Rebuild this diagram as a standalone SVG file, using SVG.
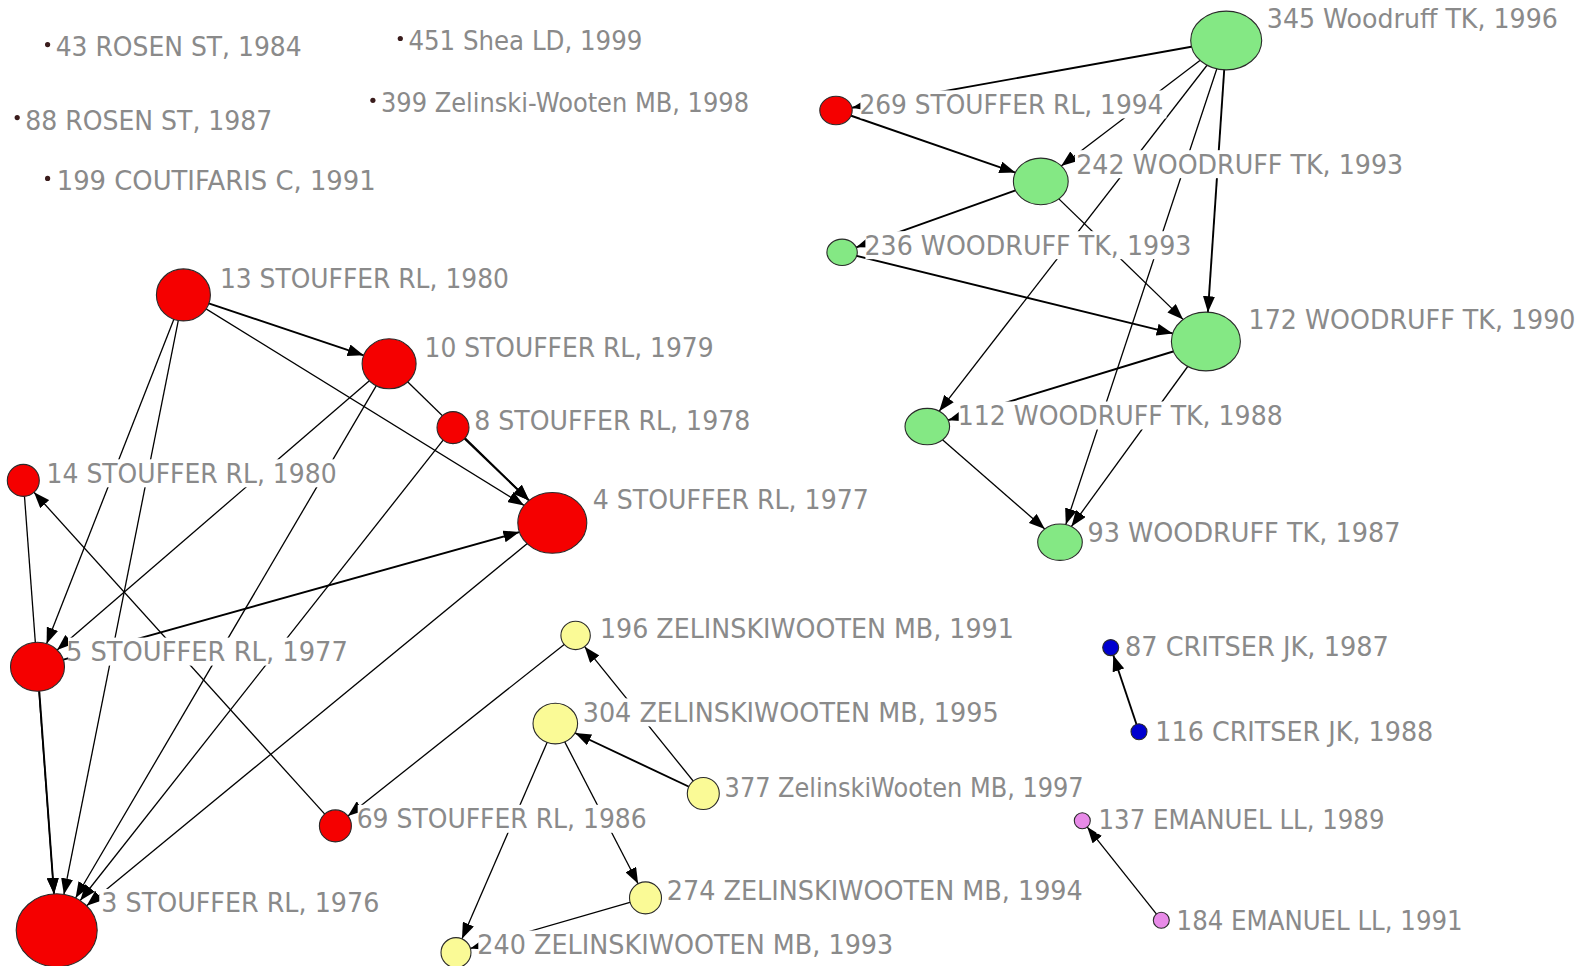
<svg xmlns="http://www.w3.org/2000/svg" width="1589" height="966" viewBox="0 0 1589 966">
<style>
.e{stroke:#000;stroke-width:1.3;fill:none;marker-end:url(#ah)}
.t{stroke-width:1.9}
.lb{fill:#fff}
.tx{font-family:"DejaVu Sans","Liberation Sans",sans-serif;font-size:26px;fill:#8a8a8a}
.nd{stroke:#2a2a2a;stroke-width:1.1}
.red{fill:#f50000}
.grn{fill:#84e884}
.yel{fill:#fafa96}
.blu{fill:#0000d0}
.pnk{fill:#e88ae8}
.dot{fill:#3a1c1c}
</style>
<defs>
<marker id="ah" viewBox="0 0 16 12" markerWidth="16" markerHeight="12" refX="16" refY="6" orient="auto" markerUnits="userSpaceOnUse">
<path d="M0,0 L16,6 L0,12 z" fill="#000"/>
</marker>
</defs>
<rect width="1589" height="966" fill="#fff"/>
<g id="connectors">
<path class="e t" d="M183.4,294.9 L363.7,355.3"/>
<path class="e" d="M183.4,294.9 L524.1,505.4"/>
<path class="e" d="M183.4,294.9 L46.6,643.7"/>
<path class="e" d="M183.4,294.9 L63.9,894.4"/>
<path class="e" d="M389.1,363.8 L529.2,500.4"/>
<path class="e t" d="M453,427.6 L529,500.5"/>
<path class="e" d="M389.1,363.8 L57.1,649.9"/>
<path class="e" d="M389.1,363.8 L75.6,898"/>
<path class="e" d="M453,427.6 L80.2,900.5"/>
<path class="e" d="M552.3,522.9 L86.6,905.7"/>
<path class="e t" d="M37.5,666.8 L519.4,532.1"/>
<path class="e" d="M23.3,480.4 L54,893.9"/>
<path class="e t" d="M37.5,666.8 L54,893.9"/>
<path class="e" d="M335.4,825.9 L34,492.3"/>
<path class="e" d="M575.6,635.4 L347.9,816"/>
<path class="e" d="M703.3,793.5 L584.7,646.7"/>
<path class="e t" d="M703.3,793.5 L575.1,733"/>
<path class="e" d="M555.3,723.6 L462,938.8"/>
<path class="e" d="M555.3,723.6 L638.1,883.7"/>
<path class="e" d="M645.5,897.9 L470.4,948.4"/>
<path class="e t" d="M1139,731.7 L1113.3,655.2"/>
<path class="e" d="M1161.3,920.2 L1087.3,827.1"/>
<path class="e t" d="M1226.2,40.5 L851.9,107.7"/>
<path class="e" d="M1226.2,40.5 L1061.2,165.9"/>
<path class="e" d="M1226.2,40.5 L939.2,411.2"/>
<path class="e" d="M1226.2,40.5 L1065.8,524.6"/>
<path class="e t" d="M1226.2,40.5 L1207.9,312.2"/>
<path class="e t" d="M836,110.5 L1015.4,172.6"/>
<path class="e t" d="M1040.8,181.4 L856.2,247.3"/>
<path class="e" d="M1040.8,181.4 L1183.1,319.4"/>
<path class="e t" d="M842.1,252.3 L1172.7,333.4"/>
<path class="e t" d="M1205.9,341.5 L948.2,420.2"/>
<path class="e" d="M1205.9,341.5 L1071.4,526.5"/>
<path class="e" d="M927.3,426.6 L1044.8,528.9"/>
</g>
<g id="n43"><rect class="lb" x="53.7" y="32.6" width="250" height="28"/><text class="tx" x="55.7" y="56.1" textLength="246" lengthAdjust="spacingAndGlyphs">43 ROSEN ST, 1984</text><circle class="dot" cx="47.6" cy="44.6" r="2.6"/></g>
<g id="n451"><rect class="lb" x="406.4" y="26.5" width="238" height="28"/><text class="tx" x="408.4" y="50" textLength="234" lengthAdjust="spacingAndGlyphs">451 Shea LD, 1999</text><circle class="dot" cx="400.3" cy="38.5" r="2.6"/></g>
<g id="n88"><rect class="lb" x="23.3" y="106.6" width="251" height="28"/><text class="tx" x="25.3" y="130.1" textLength="247" lengthAdjust="spacingAndGlyphs">88 ROSEN ST, 1987</text><circle class="dot" cx="17.2" cy="117.6" r="2.6"/></g>
<g id="n399"><rect class="lb" x="379" y="88.4" width="372" height="28"/><text class="tx" x="381" y="111.9" textLength="368" lengthAdjust="spacingAndGlyphs">399 Zelinski-Wooten MB, 1998</text><circle class="dot" cx="372.9" cy="100.3" r="2.6"/></g>
<g id="n199"><rect class="lb" x="54.7" y="166.4" width="323" height="28"/><text class="tx" x="56.7" y="189.9" textLength="319" lengthAdjust="spacingAndGlyphs">199 COUTIFARIS C, 1991</text><circle class="dot" cx="47.6" cy="178.4" r="2.6"/></g>
<g id="n345"><rect class="lb" x="1264.8" y="4.2" width="295" height="28"/><text class="tx" x="1266.8" y="27.7" textLength="291" lengthAdjust="spacingAndGlyphs">345 Woodruff TK, 1996</text><ellipse class="nd grn" cx="1226.2" cy="40.5" rx="35.5" ry="29.4"/></g>
<g id="n269"><rect class="lb" x="860.4" y="90.4" width="306" height="28"/><text class="tx" x="859.4" y="113.9" textLength="304" lengthAdjust="spacingAndGlyphs">269 STOUFFER RL, 1994</text><ellipse class="nd red" cx="836" cy="110.5" rx="16.2" ry="14.2"/></g>
<g id="n242"><rect class="lb" x="1075" y="150.2" width="331" height="28"/><text class="tx" x="1076.2" y="173.7" textLength="327" lengthAdjust="spacingAndGlyphs">242 WOODRUFF TK, 1993</text><ellipse class="nd grn" cx="1040.8" cy="181.4" rx="27.4" ry="23.3"/></g>
<g id="n236"><rect class="lb" x="865.4" y="231.2" width="329" height="28"/><text class="tx" x="864.4" y="254.7" textLength="327" lengthAdjust="spacingAndGlyphs">236 WOODRUFF TK, 1993</text><ellipse class="nd grn" cx="842.1" cy="252.3" rx="15.2" ry="13.2"/></g>
<g id="n172"><rect class="lb" x="1246.5" y="305.2" width="331" height="28"/><text class="tx" x="1248.5" y="328.7" textLength="327" lengthAdjust="spacingAndGlyphs">172 WOODRUFF TK, 1990</text><ellipse class="nd grn" cx="1205.9" cy="341.5" rx="34.5" ry="29.4"/></g>
<g id="n112"><rect class="lb" x="958.7" y="401.5" width="327" height="28"/><text class="tx" x="957.7" y="425" textLength="325" lengthAdjust="spacingAndGlyphs">112 WOODRUFF TK, 1988</text><ellipse class="nd grn" cx="927.3" cy="426.6" rx="22.3" ry="18.2"/></g>
<g id="n93"><rect class="lb" x="1085.4" y="518" width="317" height="28"/><text class="tx" x="1087.4" y="541.5" textLength="313" lengthAdjust="spacingAndGlyphs">93 WOODRUFF TK, 1987</text><ellipse class="nd grn" cx="1060" cy="542.2" rx="22.3" ry="18.2"/></g>
<g id="n13"><rect class="lb" x="217.9" y="264.7" width="293" height="28"/><text class="tx" x="219.9" y="288.2" textLength="289" lengthAdjust="spacingAndGlyphs">13 STOUFFER RL, 1980</text><ellipse class="nd red" cx="183.4" cy="294.9" rx="27" ry="26"/></g>
<g id="n10"><rect class="lb" x="422.6" y="333.6" width="293" height="28"/><text class="tx" x="424.6" y="357.1" textLength="289" lengthAdjust="spacingAndGlyphs">10 STOUFFER RL, 1979</text><ellipse class="nd red" cx="389.1" cy="363.8" rx="27" ry="25"/></g>
<g id="n8"><rect class="lb" x="472.3" y="406.6" width="280" height="28"/><text class="tx" x="474.3" y="430.1" textLength="276" lengthAdjust="spacingAndGlyphs">8 STOUFFER RL, 1978</text><circle class="nd red" cx="453" cy="427.6" r="16"/></g>
<g id="n4"><rect class="lb" x="590.8" y="485.6" width="280" height="28"/><text class="tx" x="592.8" y="509.1" textLength="276" lengthAdjust="spacingAndGlyphs">4 STOUFFER RL, 1977</text><ellipse class="nd red" cx="552.3" cy="522.9" rx="34.5" ry="30.4"/></g>
<g id="n14"><rect class="lb" x="44.6" y="459.3" width="294" height="28"/><text class="tx" x="46.6" y="482.8" textLength="290" lengthAdjust="spacingAndGlyphs">14 STOUFFER RL, 1980</text><circle class="nd red" cx="23.3" cy="480.4" r="16"/></g>
<g id="n5"><rect class="lb" x="68" y="637.6" width="285" height="28"/><text class="tx" x="65.9" y="661.1" textLength="282" lengthAdjust="spacingAndGlyphs">5 STOUFFER RL, 1977</text><ellipse class="nd red" cx="37.5" cy="666.8" rx="27" ry="24.5"/></g>
<g id="n3"><rect class="lb" x="99.3" y="888.9" width="282" height="28"/><text class="tx" x="101.3" y="912.4" textLength="278" lengthAdjust="spacingAndGlyphs">3 STOUFFER RL, 1976</text><ellipse class="nd red" cx="56.7" cy="930.3" rx="40.5" ry="36.5"/></g>
<g id="n69"><rect class="lb" x="357.7" y="804.8" width="294" height="28"/><text class="tx" x="356.7" y="828.3" textLength="290" lengthAdjust="spacingAndGlyphs">69 STOUFFER RL, 1986</text><circle class="nd red" cx="335.4" cy="825.9" r="16"/></g>
<g id="n196"><rect class="lb" x="597.9" y="614.3" width="418" height="28"/><text class="tx" x="599.9" y="637.8" textLength="414" lengthAdjust="spacingAndGlyphs">196 ZELINSKIWOOTEN MB, 1991</text><ellipse class="nd yel" cx="575.6" cy="635.4" rx="14.7" ry="14.2"/></g>
<g id="n304"><rect class="lb" x="580.7" y="698.4" width="420" height="28"/><text class="tx" x="582.7" y="721.9" textLength="416" lengthAdjust="spacingAndGlyphs">304 ZELINSKIWOOTEN MB, 1995</text><ellipse class="nd yel" cx="555.3" cy="723.6" rx="22.3" ry="20.3"/></g>
<g id="n377"><rect class="lb" x="722.6" y="773.4" width="363" height="28"/><text class="tx" x="724.6" y="796.9" textLength="359" lengthAdjust="spacingAndGlyphs">377 ZelinskiWooten MB, 1997</text><circle class="nd yel" cx="703.3" cy="793.5" r="16"/></g>
<g id="n274"><rect class="lb" x="664.8" y="876.8" width="420" height="28"/><text class="tx" x="666.8" y="900.3" textLength="416" lengthAdjust="spacingAndGlyphs">274 ZELINSKIWOOTEN MB, 1994</text><circle class="nd yel" cx="645.5" cy="897.9" r="16"/></g>
<g id="n240"><rect class="lb" x="478.3" y="930.5" width="418" height="28"/><text class="tx" x="477.3" y="954" textLength="416" lengthAdjust="spacingAndGlyphs">240 ZELINSKIWOOTEN MB, 1993</text><circle class="nd yel" cx="456" cy="952.6" r="15"/></g>
<g id="n87"><rect class="lb" x="1122.9" y="632.5" width="268" height="28"/><text class="tx" x="1124.9" y="656" textLength="264" lengthAdjust="spacingAndGlyphs">87 CRITSER JK, 1987</text><circle class="nd blu" cx="1110.7" cy="647.6" r="8"/></g>
<g id="n116"><rect class="lb" x="1153.3" y="717.7" width="282" height="28"/><text class="tx" x="1155.3" y="741.2" textLength="278" lengthAdjust="spacingAndGlyphs">116 CRITSER JK, 1988</text><circle class="nd blu" cx="1139" cy="731.7" r="8"/></g>
<g id="n137"><rect class="lb" x="1096.5" y="805.8" width="290" height="28"/><text class="tx" x="1098.5" y="829.3" textLength="286" lengthAdjust="spacingAndGlyphs">137 EMANUEL LL, 1989</text><circle class="nd pnk" cx="1082.3" cy="820.8" r="8"/></g>
<g id="n184"><rect class="lb" x="1174.6" y="906.2" width="290" height="28"/><text class="tx" x="1176.6" y="929.7" textLength="286" lengthAdjust="spacingAndGlyphs">184 EMANUEL LL, 1991</text><circle class="nd pnk" cx="1161.3" cy="920.2" r="8"/></g>
</svg>
